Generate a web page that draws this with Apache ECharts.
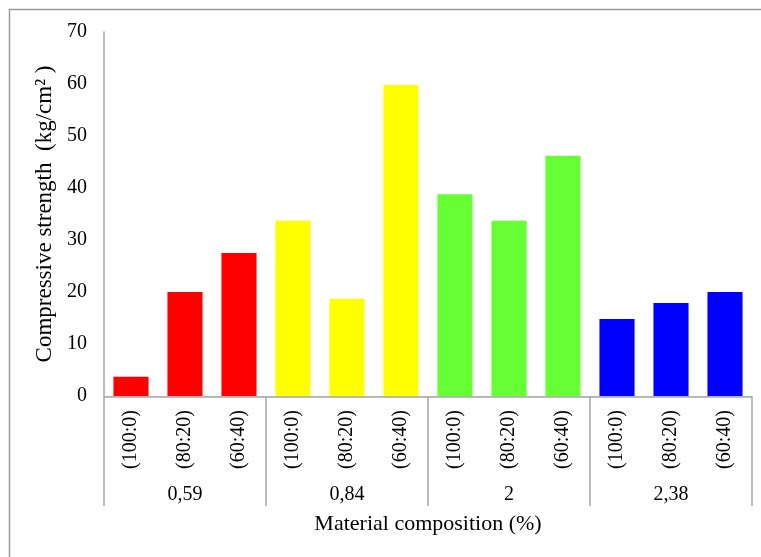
<!DOCTYPE html>
<html>
<head>
<meta charset="utf-8">
<script src="https://cdn.jsdelivr.net/npm/echarts@6/dist/echarts.min.js"></script>
<style>
html,body{margin:0;padding:0;background:#fff;}
#chart{width:761px;height:557px;}
</style>
</head>
<body>
<div id="chart"></div>
<script>
// ---- data ----
var ratios = ['(100:0)', '(80:20)', '(60:40)'];
var groups = ['0,59', '0,84', '2', '2,38'];
var values0_59 = [3.7, 20.0, 27.5];
var values0_84 = [33.7, 18.7, 59.8];
var values2 = [38.8, 33.7, 46.2];
var values2_38 = [14.8, 17.9, 20.0];
var yTicks = [0, 10, 20, 30, 40, 50, 60, 70];

// ---- style ----
var groupColors = ['#ff0000', '#ffff00', '#66ff33', '#0000ff'];
var FONT = '"Liberation Serif", "Times New Roman", serif';

var groupValues = [values0_59, values0_84, values2, values2_38];
var categories = [];
var barData = [];
groups.forEach(function (g, gi) {
  ratios.forEach(function (r, ri) {
    categories.push(r);
    barData.push({ value: groupValues[gi][ri], itemStyle: { color: groupColors[gi] } });
  });
});

var chart = echarts.init(document.getElementById('chart'), null, { renderer: 'canvas' });
chart.setOption({
  animation: false,
  backgroundColor: '#fff',
  graphic: [{
    type: 'rect',
    shape: { x: 9.5, y: 9.5, width: 800, height: 600 },
    style: { fill: null, stroke: '#9a9a9a', lineWidth: 1.5 },
    silent: true
  }],
  grid: { left: 104, right: 9, top: 32, bottom: 161 },
  xAxis: [{
    type: 'category',
    data: categories,
    position: 'bottom',
    axisLine: { show: true, lineStyle: { color: '#d9d9d9', width: 1 } },
    axisTick: { show: false },
    axisLabel: {
      rotate: 90, interval: 0, margin: 14,
      fontFamily: FONT, fontSize: 20, color: '#000'
    }
  }, {
    type: 'category',
    data: groups,
    position: 'bottom',
    offset: 1,
    axisLine: { show: true, lineStyle: { color: '#a6a6a6', width: 1.5 } },
    axisTick: { show: true, length: 109, lineStyle: { color: '#a6a6a6', width: 1.5 } },
    axisLabel: { interval: 0, margin: 88, fontFamily: FONT, fontSize: 20, color: '#000' },
    name: 'Material composition (%)',
    nameLocation: 'middle',
    nameGap: 116,
    nameTextStyle: { fontFamily: FONT, fontSize: 22, color: '#000' }
  }],
  yAxis: {
    type: 'value',
    min: yTicks[0],
    max: yTicks[yTicks.length - 1],
    interval: 10,
    axisLine: { show: true, lineStyle: { color: '#a6a6a6', width: 1.5 } },
    axisTick: { show: false },
    splitLine: { show: false },
    axisLabel: { margin: 17, fontFamily: FONT, fontSize: 20, color: '#000' },
    name: 'Compressive strength  (kg/cm\u00B2 )',
    nameLocation: 'middle',
    nameGap: 45,
    nameRotate: 90,
    nameTextStyle: { fontFamily: FONT, fontSize: 23, color: '#000' }
  },
  series: [{
    type: 'bar',
    xAxisIndex: 0,
    data: barData,
    barWidth: '65%'
  }]
});
</script>
</body>
</html>
